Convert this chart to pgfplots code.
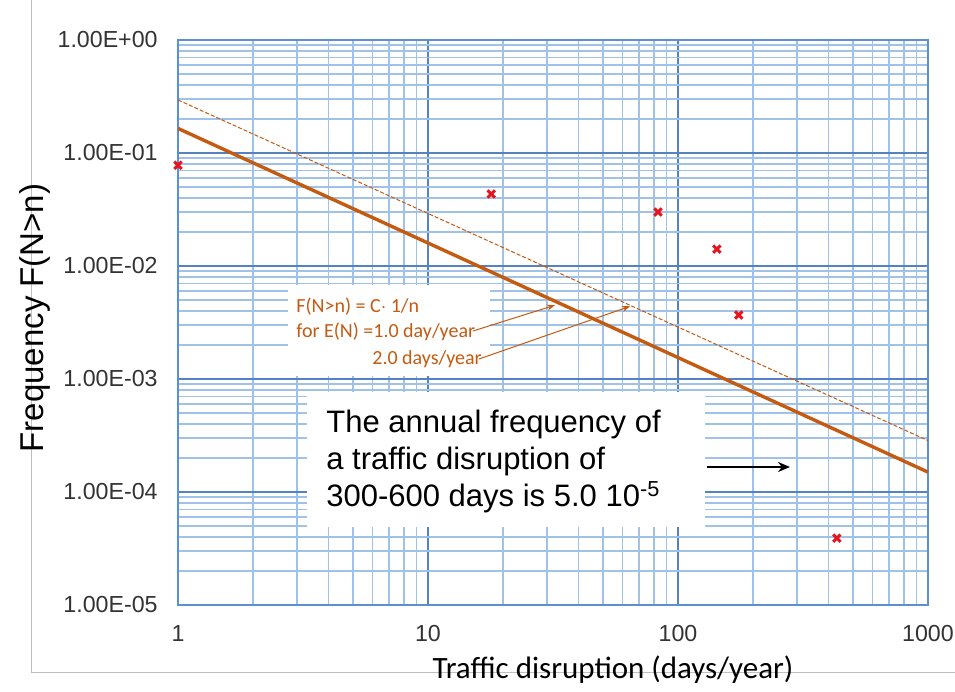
\documentclass[border=0pt]{standalone}
\usepackage{pgfplots}
\pgfplotsset{compat=1.18}
\usepackage{fontspec}
\setmainfont{Liberation Sans}
\newfontfamily\calibri{Carlito}
\usetikzlibrary{arrows.meta}
\definecolor{mingrid}{RGB}{160,194,232}
\definecolor{majgrid}{RGB}{84,130,194}
\definecolor{frameblue}{RGB}{91,145,208}
\definecolor{brown1}{RGB}{197,90,17}
\definecolor{marker}{RGB}{230,20,30}
\begin{document}
\begin{tikzpicture}
\path[use as bounding box] (0,0) rectangle (477.5pt,346pt);
\begin{axis}[
  at={(89pt,43.5pt)}, anchor=south west,
  scale only axis, width=375pt, height=282.5pt,
  xmode=log, ymode=log,
  xmin=1, xmax=1000, ymin=1e-5, ymax=1,
  xtick={1,10,100,1000}, xticklabels={1,10,100,1000},
  ytick={1e-5,1e-4,1e-3,1e-2,1e-1,1},
  yticklabels={1.00E-05,1.00E-04,1.00E-03,1.00E-02,1.00E-01,1.00E+00},
  /pgf/number format/assume math mode=true,
  major tick length=0pt, minor tick length=0pt,
  grid=both,
  minor grid style={draw=mingrid, line width=0.85pt},
  major grid style={draw=majgrid, line width=1.2pt},
  axis line style={draw=frameblue, line width=1pt},
  tick label style={font=\fontsize{11.6}{13}\selectfont, text=black!80, inner sep=0pt},
  yticklabel style={xshift=-10pt},
  xticklabel style={yshift=-10pt},
  clip=false,
]
\addplot[brown1, line width=1.7pt] coordinates {(1,0.165) (1000,1.5e-4)};
\addplot[brown1, line width=0.5pt, dash pattern=on 2pt off 1pt] coordinates {(1,0.295) (1000,2.85e-4)};
\addplot[only marks, mark=x, mark size=2.6pt, line width=1.5pt, color=marker]
  coordinates {(1,0.078) (17.9,0.0434) (83.2,0.030) (143,0.0141) (175,0.00368) (432,3.9e-5)};
\coordinate (t1) at (axis cs:32.2,4.5e-3);
\coordinate (t2) at (axis cs:64.3,4.4e-3);
\end{axis}
\begin{scope}[x=0.5pt,y=-0.5pt,yshift=346pt]
  % faint frame artifact
  \draw[black!25, line width=0.4pt] (31,0) -- (31,672) -- (955,672);
  % box 1
  \fill[white] (288,285) rectangle (490,376);
  \node[anchor=base west, inner sep=0pt, text=brown1, font=\calibri\fontsize{10}{12}\selectfont] at (296,313) {F(N>n) = C$\cdot$ 1/n};
  \node[anchor=base west, inner sep=0pt, text=brown1, font=\calibri\fontsize{10}{12}\selectfont] at (296,338) {for E(N) =1.0 day/year};
  \node[anchor=base west, inner sep=0pt, text=brown1, font=\calibri\fontsize{10}{12}\selectfont] at (372,365) {2.0 days/year};
  \draw[brown1, line width=0.5pt, -{Stealth[length=4pt,width=3pt]}] (473,331) -- (t1);
  \draw[brown1, line width=0.5pt, -{Stealth[length=4pt,width=3pt]}] (479,359) -- (t2);
  % box 2
  \fill[white] (307,392) rectangle (705,527);
  \node[anchor=base west, inner sep=0pt, font=\fontsize{15.5}{18}\selectfont] at (326,433) {The annual frequency of};
  \node[anchor=base west, inner sep=0pt, font=\fontsize{15.5}{18}\selectfont] at (326,470) {a traffic disruption of};
  \node[anchor=base west, inner sep=0pt, font=\fontsize{15.5}{18}\selectfont] at (326,507) {300-600 days is 5.0 10\textsuperscript{-5}};
  \draw[black, line width=0.8pt, -{Stealth[length=6pt,width=5pt]}] (707,467) -- (790,467);
  % axis labels
  \node[font=\calibri\fontsize{15.5}{18}\selectfont] at (613,670) {Traffic disruption (days/year)};
  \node[rotate=90, font=\fontsize{16.5}{19}\selectfont] at (35,318) {Frequency F(N>n)};
\end{scope}
\end{tikzpicture}
\end{document}
